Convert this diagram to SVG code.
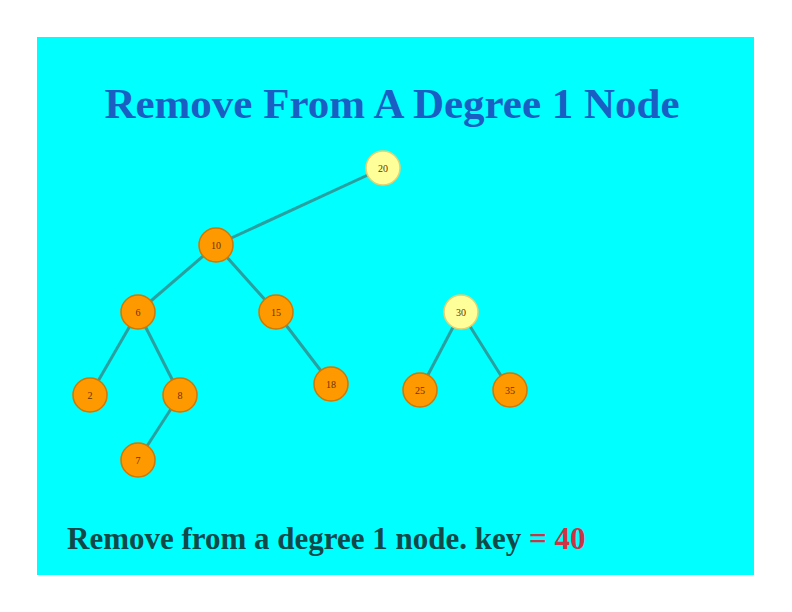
<svg xmlns="http://www.w3.org/2000/svg" width="792" height="612" viewBox="0 0 792 612">
<style>
.edge{stroke:#2a9f9f;stroke-width:3;fill:none}
.n circle{fill:#ff9900;stroke:#d07800;stroke-width:1.5}
.n.hl circle{fill:#ffff99;stroke:#e6d070}
.n text{font-family:"Liberation Serif",serif;font-size:10px;fill:#663300;text-anchor:middle}
.title{font-family:"Liberation Serif",serif;font-weight:bold;font-size:43px;fill:#1a5ec4}
.caption{font-family:"Liberation Serif",serif;font-weight:bold;font-size:31px;fill:#124848}
</style>
<rect width="792" height="612" fill="#ffffff"/>
<rect x="37" y="37" width="717" height="538" fill="#00ffff"/>
<text class="title" x="392" y="118" text-anchor="middle">Remove From A Degree 1 Node</text>
<g id="connectors">
<line class="edge" x1="383" y1="168" x2="216" y2="245"/>
<line class="edge" x1="216" y1="245" x2="138" y2="312"/>
<line class="edge" x1="216" y1="245" x2="276" y2="312"/>
<line class="edge" x1="138" y1="312" x2="90" y2="395"/>
<line class="edge" x1="138" y1="312" x2="180" y2="395"/>
<line class="edge" x1="180" y1="395" x2="138" y2="460"/>
<line class="edge" x1="276" y1="312" x2="331" y2="384"/>
<line class="edge" x1="461" y1="312" x2="420" y2="390"/>
<line class="edge" x1="461" y1="312" x2="510" y2="390"/>
</g>
<g id="n20" class="n hl"><circle cx="383" cy="168" r="17"/><text x="383" y="172">20</text></g>
<g id="n10" class="n"><circle cx="216" cy="245" r="17"/><text x="216" y="249">10</text></g>
<g id="n6" class="n"><circle cx="138" cy="312" r="17"/><text x="138" y="316">6</text></g>
<g id="n15" class="n"><circle cx="276" cy="312" r="17"/><text x="276" y="316">15</text></g>
<g id="n30" class="n hl"><circle cx="461" cy="312" r="17"/><text x="461" y="316">30</text></g>
<g id="n2" class="n"><circle cx="90" cy="395" r="17"/><text x="90" y="399">2</text></g>
<g id="n8" class="n"><circle cx="180" cy="395" r="17"/><text x="180" y="399">8</text></g>
<g id="n18" class="n"><circle cx="331" cy="384" r="17"/><text x="331" y="388">18</text></g>
<g id="n25" class="n"><circle cx="420" cy="390" r="17"/><text x="420" y="394">25</text></g>
<g id="n35" class="n"><circle cx="510" cy="390" r="17"/><text x="510" y="394">35</text></g>
<g id="n7" class="n"><circle cx="138" cy="460" r="17"/><text x="138" y="464">7</text></g>
<text class="caption" x="67" y="549">Remove from a degree 1 node. key <tspan fill="#cc3344">= 40</tspan></text>
</svg>
